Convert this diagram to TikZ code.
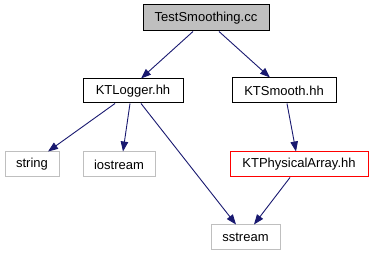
\documentclass[tikz,border=0pt]{standalone}
\usepackage{fontspec}
\setmainfont{Liberation Sans}
\usetikzlibrary{arrows.meta}
\definecolor{edgeblue}{HTML}{191970}
\definecolor{extgray}{HTML}{BFBFBF}
\definecolor{rootfill}{HTML}{BFBFBF}
\begin{document}
\begin{tikzpicture}[x=1pt,y=-1pt,
  box/.style={draw=black,line width=1pt,fill=white,inner sep=0pt,
    minimum height=25pt,font=\fontsize{13}{15}\selectfont},
  rootbox/.style={box,fill=rootfill},
  extbox/.style={box,draw=extgray},
  redbox/.style={box,draw=red},
  dep/.style={draw=edgeblue,line width=0.9pt,
    -{Triangle[length=10pt,width=7.5pt]}}]
\useasboundingbox (0,0) rectangle (373,256);
\node[rootbox,minimum width=126pt,minimum height=26pt] (ts) at (206,18) {TestSmoothing.cc};
\node[box,minimum width=100pt,minimum height=24pt] (kl) at (133,91) {KTLogger.hh};
\node[box,minimum width=104pt] (ks) at (284,90.5) {KTSmooth.hh};
\node[extbox,minimum width=54pt] (str) at (32,164.5) {string};
\node[extbox,minimum width=72pt] (ios) at (119,164.5) {iostream};
\node[redbox,minimum width=138pt] (kpa) at (299,164.5) {KTPhysicalArray.hh};
\node[extbox,minimum width=69pt] (ss) at (245.5,237.5) {sstream};
\draw[dep] ([xshift=-13pt]ts.south) -- ([xshift=8pt]kl.north);
\draw[dep] ([xshift=13pt]ts.south) -- ([xshift=-14pt]ks.north);
\draw[dep] ([xshift=-18pt]kl.south) -- ([xshift=16pt]str.north);
\draw[dep] ([xshift=-3pt]kl.south) -- ([xshift=4pt]ios.north);
\draw[dep] ([xshift=8pt]kl.south) -- ([xshift=-9.5pt]ss.north);
\draw[dep] ([xshift=3pt]ks.south) -- ([xshift=-3pt]kpa.north);
\draw[dep] ([xshift=-9pt]kpa.south) -- ([xshift=8.5pt]ss.north);
\end{tikzpicture}
\end{document}
